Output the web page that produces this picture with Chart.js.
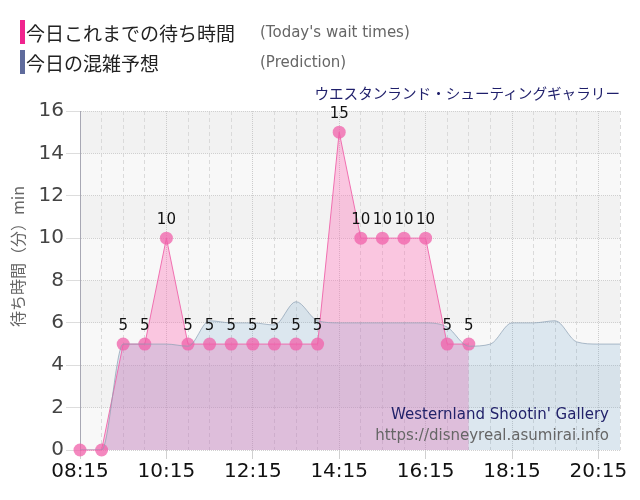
<!DOCTYPE html>
<html>
<head>
<meta charset="utf-8">
<script src="https://cdn.jsdelivr.net/npm/chart.js@4.4.0/dist/chart.umd.min.js"></script>
<style>
  body { margin: 0; background: #fff; }
  #wrap { position: relative; width: 640px; height: 500px; }
  #chart { position: absolute; left: 0; top: 0; }
  .row { position: absolute; left: 20px; height: 24px; display: flex; align-items: center; }
  .bar { width: 5px; height: 24px; margin-right: 1px; }
  .jp { font-family: "Noto Sans CJK JP"; font-size: 19px; color: #222; width: 234px; white-space: nowrap; }
  .en { font-family: "DejaVu Sans"; font-size: 15px; color: #666; }
  #title { position: absolute; right: 20px; top: 82px; font-family: "Noto Sans CJK JP"; font-size: 14.6px; color: #1f1f6b; }
</style>
</head>
<body>
<div id="wrap">
  <canvas id="chart" width="640" height="500"></canvas>
  <div class="row" style="top:20px"><div class="bar" style="background:#f0248e"></div><span class="jp">今日これまでの待ち時間</span><span class="en">(Today's wait times)</span></div>
  <div class="row" style="top:50px"><div class="bar" style="background:#5f6b9c"></div><span class="jp">今日の混雑予想</span><span class="en">(Prediction)</span></div>
  <div id="title">ウエスタンランド・シューティングギャラリー</div>
</div>
<script>
// time slots every 30 minutes
const times = ['08:15', '08:45', '09:15', '09:45', '10:15', '10:45', '11:15', '11:45', '12:15', '12:45',
  '13:15', '13:45', '14:15', '14:45', '15:15', '15:45', '16:15', '16:45', '17:15', '17:45',
  '18:15', '18:45', '19:15', '19:45', '20:15', '20:45'];

// today's actual wait times (until 17:15)
const waitTimes = [0, 0, 5, 5, 10, 5, 5, 5, 5, 5, 5, 5, 15, 10, 10, 10, 10, 5, 5];

// predicted wait times for the whole day
const predicted = [0, 0, 5, 5, 5, 4.9, 6.1, 6, 6, 5.9, 7, 6.1, 6, 6, 6, 6, 6, 5.8, 4.9, 5,
  6, 6, 6.1, 5.1, 5, 5];

const yMax = 16;
const yStep = 2;

// background bands behind the plot
const bandsPlugin = {
  id: 'bands',
  beforeDraw(chart) {
    const { ctx, chartArea: a, scales: { y } } = chart;
    ctx.save();
    ctx.fillStyle = '#f2f2f2';
    ctx.fillRect(a.left, a.top, a.right - a.left, a.bottom - a.top);
    ctx.fillStyle = '#f8f8f8';
    for (let v = 0; v < yMax; v += yStep * 2) {
      const top = y.getPixelForValue(v + yStep);
      const bot = y.getPixelForValue(v);
      ctx.fillRect(a.left, top, a.right - a.left, bot - top);
    }
    ctx.restore();
  }
};

// value labels above the points + watermark text
const labelsPlugin = {
  id: 'labels',
  afterDatasetsDraw(chart) {
    const { ctx, chartArea: a } = chart;
    const meta = chart.getDatasetMeta(1);
    ctx.save();
    ctx.font = '15px "DejaVu Sans"';
    ctx.fillStyle = '#111';
    ctx.textAlign = 'center';
    ctx.textBaseline = 'middle';
    meta.data.forEach((pt, i) => {
      if (waitTimes[i] > 0) ctx.fillText(String(waitTimes[i]), pt.x, pt.y - 18);
    });

    ctx.textAlign = 'right';
    ctx.font = '15px "DejaVu Sans"';
    ctx.fillStyle = '#22226a';
    ctx.fillText("Westernland Shootin' Gallery", a.right - 11, a.bottom - 35);
    ctx.fillStyle = '#666';
    ctx.fillText('https://disneyreal.asumirai.info', a.right - 11, a.bottom - 14);
    ctx.restore();
  }
};

new Chart(document.getElementById('chart'), {
  type: 'line',
  data: {
    labels: times,
    datasets: [
      {
        label: '今日の混雑予想',
        data: predicted,
        borderColor: 'rgba(140,160,180,0.7)',
        borderWidth: 1,
        backgroundColor: 'rgba(92,153,198,0.18)',
        fill: 'origin',
        pointRadius: 0,
        cubicInterpolationMode: 'monotone'
      },
      {
        label: '今日これまでの待ち時間',
        data: waitTimes,
        borderColor: 'rgba(240,100,170,0.9)',
        borderWidth: 1,
        backgroundColor: 'rgba(255,105,180,0.35)',
        fill: 'origin',
        tension: 0,
        pointRadius: 6.5,
        pointBorderWidth: 0,
        pointBackgroundColor: 'rgba(240,96,170,0.75)',
        clip: false
      }
    ]
  },
  options: {
    responsive: false,
    animation: false,
    layout: { padding: { top: 111, right: 20, left: 0, bottom: 0 } },
    plugins: {
      legend: { display: false },
      tooltip: { enabled: false },
      filler: { drawTime: 'beforeDatasetsDraw' }
    },
    scales: {
      x: {
        afterFit: (s) => { s.height = 50; },
        border: {
          display: false,
          dash: (c) => (c.index % 4 === 0 ? [1, 1] : [4, 3])
        },
        grid: {
          color: (c) => (c.index % 4 === 0 ? '#cccccc' : '#dadada'),
          tickColor: (c) => (c.index % 4 === 0 ? '#d0d0d0' : 'rgba(0,0,0,0)'),
          tickLength: 9
        },
        ticks: {
          autoSkip: false,
          maxRotation: 0,
          padding: 1,
          color: '#111',
          font: { family: 'DejaVu Sans', size: 20 },
          callback: (v, i) => (i % 4 === 0 ? times[i] : '')
        }
      },
      y: {
        min: 0,
        max: yMax,
        afterFit: (s) => { s.width = 80; },
        border: { display: true, color: '#a8a8b4', width: 1, dash: [1, 1] },
        grid: {
          color: '#d0d0d0',
          tickColor: '#dddddd',
          tickLength: 14,
          tickBorderDash: []
        },
        ticks: {
          stepSize: yStep,
          padding: 2,
          color: '#444',
          font: { family: 'DejaVu Sans', size: 20 }
        },
        title: {
          display: true,
          // leading full-width spaces push the visible text up like the original
          text: '　　　待ち時間（分）min',
          color: '#666',
          padding: { top: 8, bottom: 0 },
          font: { family: 'Noto Sans CJK JP', size: 16 }
        }
      }
    }
  },
  plugins: [bandsPlugin, labelsPlugin]
});
</script>
</body>
</html>
